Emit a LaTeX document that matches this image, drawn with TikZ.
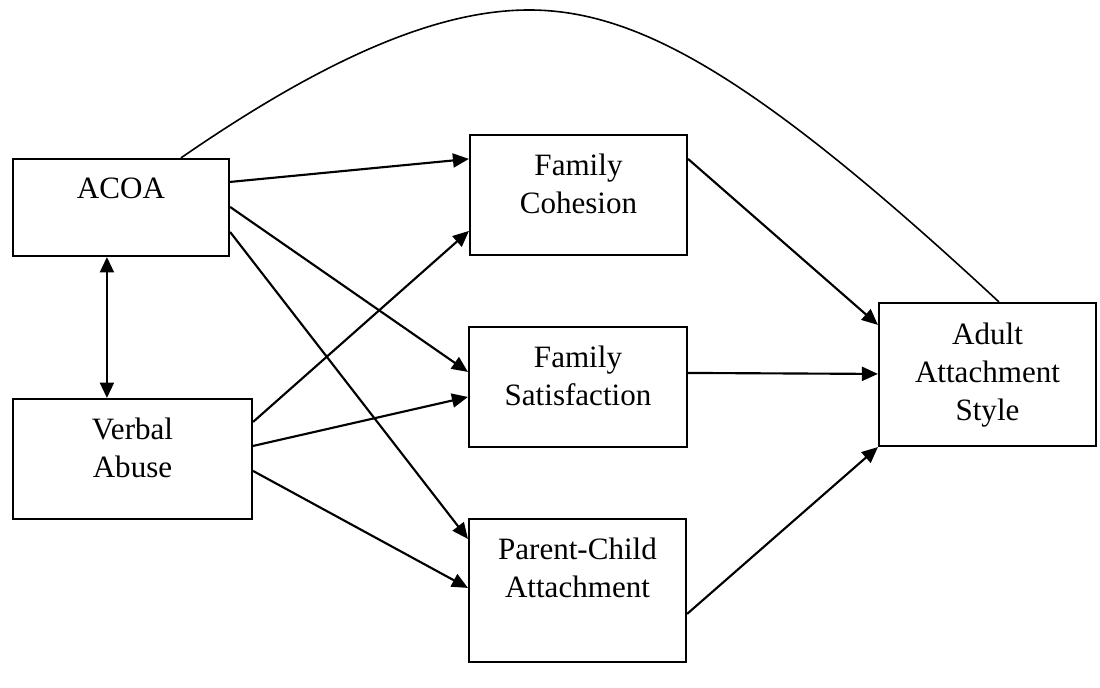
\documentclass[tikz,border=0pt]{standalone}
\usepackage{fontspec}
\setmainfont{Liberation Serif}
\usetikzlibrary{arrows.meta,calc,fit}
\begin{document}
\begin{tikzpicture}[x=0.75pt,y=-0.75pt,
  box/.style={draw,line width=1.6pt,inner sep=0pt,rectangle},
  lbl/.style={inner sep=0pt,anchor=north,align=center,font=\fontsize{23.3pt}{28.3pt}\selectfont},
  arr/.style={line width=1.6pt,-{Triangle[length=12pt,width=10.5pt]}},
  darr/.style={line width=1.6pt,{Triangle[length=11.5pt,width=10.5pt]}-{Triangle[length=11.5pt,width=10.5pt]}},
  curve/.style={line width=1.2pt}]
\useasboundingbox (0,0) rectangle (1100,688);
% boxes
\node[box,fit={(13,159) (229,256)}] (acoa) {};
\node[box,fit={(13,399) (252,519)}] (verbal) {};
\node[box,fit={(470,135) (687,255)}] (fc) {};
\node[box,fit={(469,327) (687,447)}] (fs) {};
\node[box,fit={(469,519) (686,662)}] (pc) {};
\node[box,fit={(879,303) (1096,446)}] (adult) {};
% labels
\node[lbl] (acoaT) at ($(acoa.north)+(0,20)$) {ACOA};
\node[lbl] (verbalT) at ($(verbal.north)+(0,20)$) {Verbal\\Abuse};
\node[lbl] (fcT) at ($(fc.north)+(0,20)$) {Family\\Cohesion};
\node[lbl] (fsT) at ($(fs.north)+(0,20)$) {Family\\Satisfaction};
\node[lbl] (pcT) at ($(pc.north)+(0,20)$) {Parent-Child\\Attachment};
\node[lbl] (adultT) at ($(adult.north)+(0,21)$) {Adult\\Attachment\\Style};
% arrows
\draw[arr] ($(acoa.north east)+(0,24)$) -- ($(fc.north west)+(0,25)$);
\draw[arr] ($(acoa.north east)+(0,49)$) -- ($(fs.north west)+(0,46)$);
\draw[arr] ($(acoa.north east)+(0,74)$) -- ($(pc.north west)+(0,21)$);
\draw[arr] ($(verbal.north east)+(0,24)$) -- ($(fc.north west)+(0,97)$);
\draw[arr] ($(verbal.north east)+(0,48)$) -- ($(fs.north west)+(0,71)$);
\draw[arr] ($(verbal.north east)+(0,73)$) -- ($(pc.north west)+(0,70)$);
\draw[arr] ($(fc.north east)+(0,25)$) -- ($(adult.north west)+(0,23)$);
\draw[arr] ($(fs.north east)+(0,47)$) -- ($(adult.north west)+(0,72)$);
\draw[arr] ($(pc.north east)+(0,96)$) -- (adult.south west);
\draw[darr] ($(acoa.south west)+(95,0)$) -- ($(verbal.north west)+(95,0)$);
% curve
\draw[curve] ($(acoa.north west)+(169,0)$) .. controls (330,55) and (440,10) .. (529,10)
  .. controls (640,10) and (760,80) .. ($(adult.north west)+(121,0)$);
\end{tikzpicture}
\end{document}
